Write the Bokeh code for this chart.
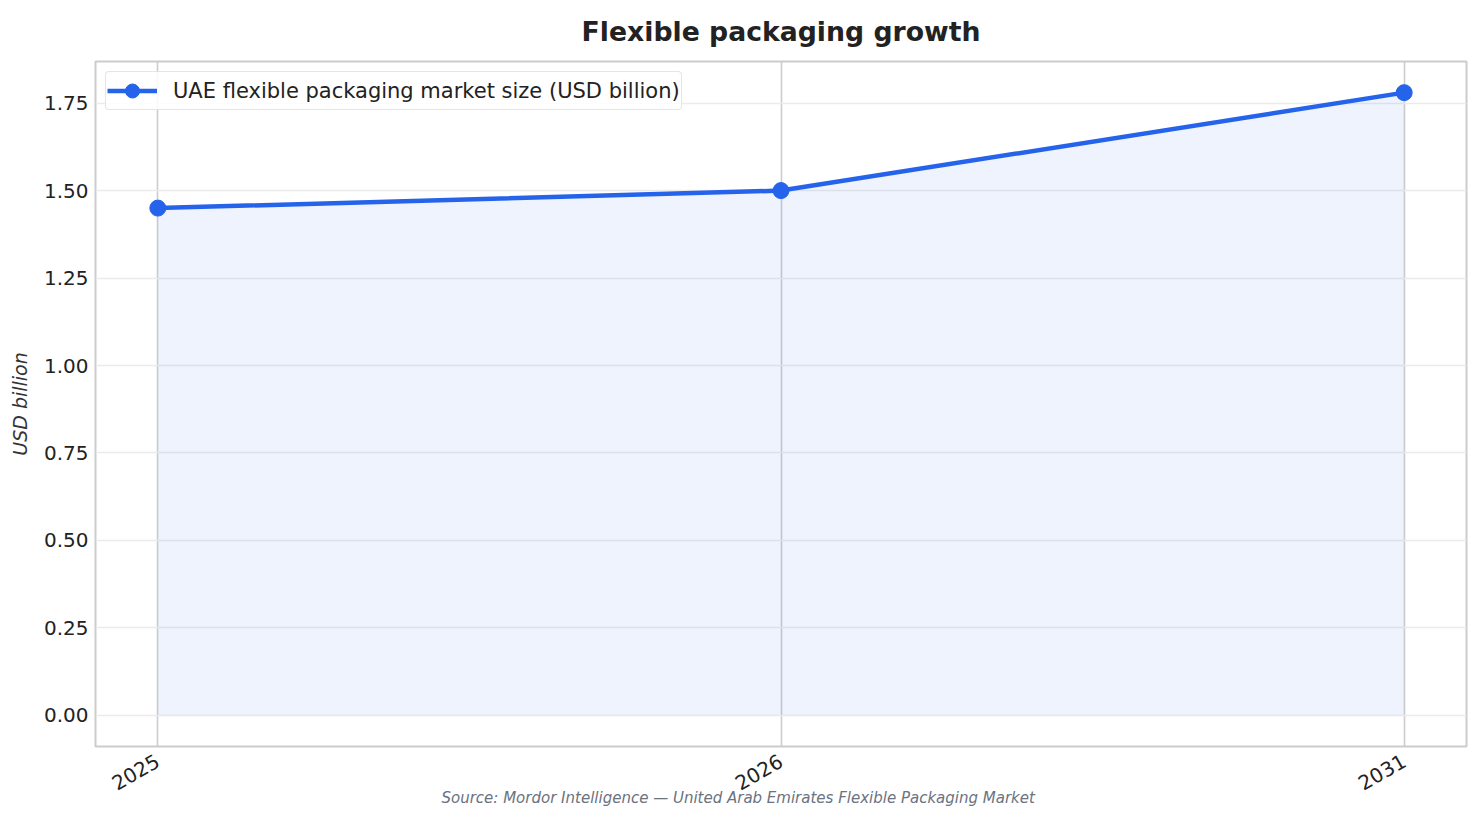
import math
from bokeh.plotting import figure
from bokeh.models import (ColumnDataSource, FixedTicker, Range1d, Legend, LegendItem,
                          Title, NumeralTickFormatter)
from bokeh.embed import file_html
from bokeh.resources import INLINE

# data
years = ["2025", "2026", "2031"]
market_size = [1.45, 1.50, 1.78]
y_ticks = [0.0, 0.25, 0.5, 0.75, 1.0, 1.25, 1.5, 1.75]

LINE = "#2563eb"
FONT = "DejaVu Sans"

xs = list(range(len(years)))
src = ColumnDataSource(dict(x=xs, y=market_size, zero=[0] * len(xs)))

p = figure(width=1474, height=808, output_backend="svg", toolbar_location=None,
           x_range=Range1d(-0.1, len(xs) - 0.9),
           y_range=Range1d(-0.089, 1.869))
p.min_border_left = 95
p.min_border_right = 8
p.min_border_top = 61
p.min_border_bottom = 62

p.title.text = "Flexible packaging growth"
p.title.align = "center"
p.title.vertical_align = "middle"
p.title.text_font = FONT
p.title.text_font_size = "26.7px"
p.title.text_font_style = "bold"
p.title.text_color = "#222222"
p.title.offset = 0
p.title.standoff = 28

# area + line + markers
p.varea(x="x", y1="zero", y2="y", source=src, fill_color=LINE, fill_alpha=0.08)
ln = p.line("x", "y", source=src, line_color=LINE, line_width=4.5)
pt = p.scatter("x", "y", source=src, size=16, fill_color=LINE, line_color=LINE)

# axes
p.xaxis.ticker = FixedTicker(ticks=xs)
p.xaxis.major_label_overrides = {i: y for i, y in enumerate(years)}
p.xaxis.major_label_orientation = math.pi / 6
p.yaxis.ticker = FixedTicker(ticks=y_ticks)
p.yaxis.formatter = NumeralTickFormatter(format="0.00")
p.yaxis.axis_label = "USD billion"
p.yaxis.axis_label_text_font = FONT
p.yaxis.axis_label_text_font_size = "19px"
p.yaxis.axis_label_text_font_style = "italic"
p.yaxis.axis_label_text_color = "#333333"
p.yaxis.axis_label_standoff = 10

for ax in (p.xaxis, p.yaxis):
    ax.axis_line_color = None
    ax.major_tick_line_color = None
    ax.minor_tick_line_color = None
    ax.major_tick_out = 0
    ax.major_tick_in = 0
    ax.major_label_text_font = FONT
    ax.major_label_text_font_size = "20px"
    ax.major_label_text_color = "#222222"
p.yaxis.major_label_standoff = 7
p.xaxis.major_label_standoff = 13

p.xgrid.grid_line_color = "#cccccc"
p.xgrid.grid_line_width = 1.6
p.ygrid.grid_line_color = "#ebebeb"
p.ygrid.grid_line_width = 1.6
p.outline_line_color = "#cccccc"
p.outline_line_width = 2
p.background_fill_color = "white"
p.border_fill_color = "white"

legend = Legend(items=[LegendItem(label="UAE flexible packaging market size (USD billion)",
                                  renderers=[ln, pt])],
                location="top_left")
legend.margin = 10
legend.padding = 1
legend.glyph_width = 50
legend.glyph_height = 35
legend.label_standoff = 16
legend.label_text_font = FONT
legend.label_text_font_size = "21px"
legend.label_text_color = "#222222"
legend.border_line_color = "#cccccc"
legend.border_line_width = 1.5
legend.border_radius = 4
legend.background_fill_alpha = 0.85
p.add_layout(legend)

# source note under the x axis (negative standoff lets it sit beside the rotated labels)
src_note = Title(text="Source: Mordor Intelligence \u2014 United Arab Emirates Flexible Packaging Market",
                 align="left", vertical_align="top", text_font=FONT, text_font_size="15px",
                 text_font_style="italic", text_color="#6b7280")
src_note.standoff = -23
src_note.offset = 346
p.add_layout(src_note, "below")

open("out.html", "w").write(file_html(p, INLINE))
